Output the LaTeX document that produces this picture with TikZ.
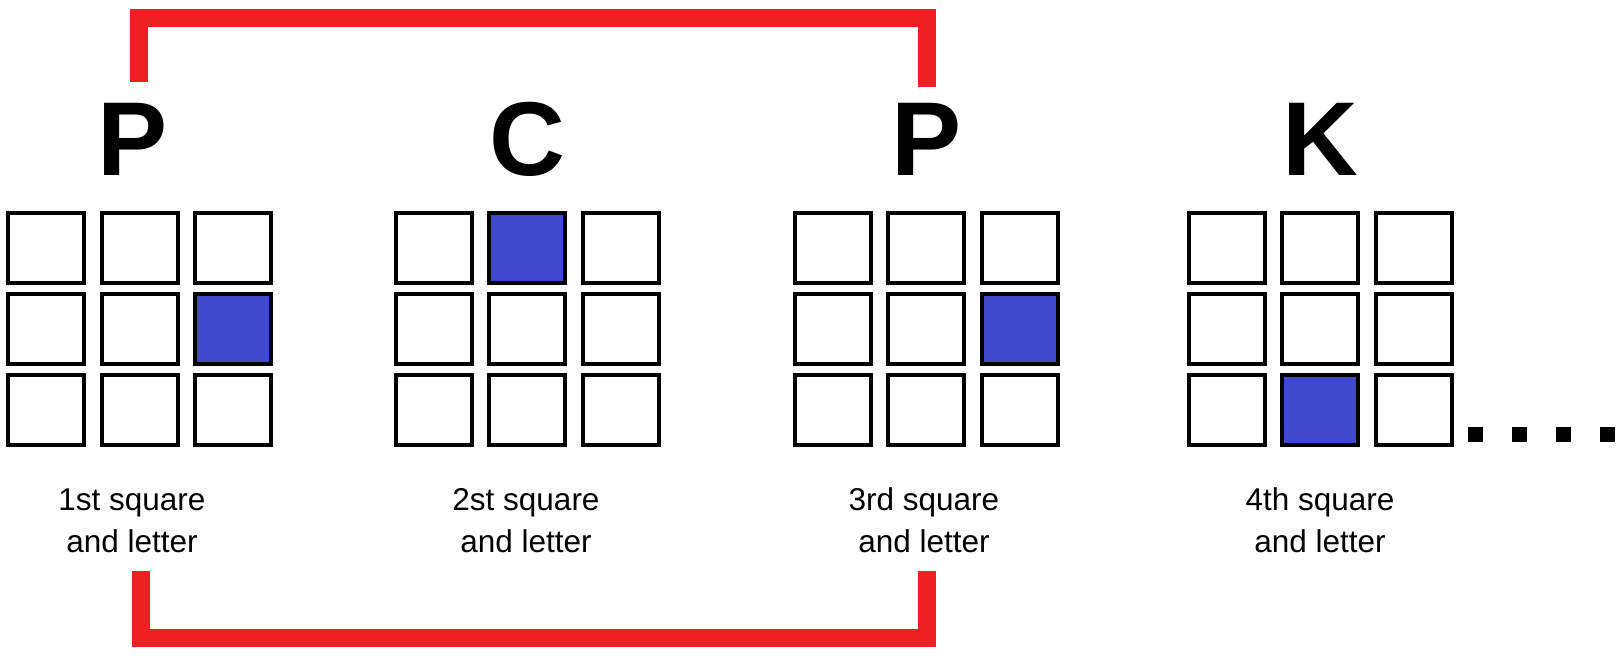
\documentclass[tikz,border=0pt]{standalone}
\usepackage{fontspec}
\setmainfont{Liberation Sans}
\usepackage{tkz-euclide}
\usetikzlibrary{positioning}
\definecolor{sqblue}{RGB}{64,73,203}
\definecolor{linkred}{RGB}{238,32,36}

\begin{document}
\begin{tikzpicture}[x=1pt,y=-1pt]
\useasboundingbox (0,0) rectangle (1619,659);
\tikzset{cell/.style={
           draw=black,
           line width=4pt,
           minimum width=76pt,
           minimum height=70pt,
           inner sep=0pt,
           },
         letter/.style={font=\fontsize{105}{105}\selectfont\bfseries,inner sep=0pt,anchor=base},
         caption/.style={font=\fontsize{31.5}{42}\selectfont,align=center,inner sep=0pt,anchor=base},
         link/.style={draw=linkred,line width=18pt},
         dot/.style={fill=black,inner sep=0pt,minimum size=15pt}
           }
%==========================================
% letters
\node[letter] (L1) at (132.5,175) {P};
\node[letter] (L2) at (527,175) {C};
\node[letter] (L3) at (926.5,175) {P};
\node[letter] (L4) at (1320,175) {K};
%==========================================
% 3x3 squares, grid k centred at (gx,329), blue cell at (bc,br)
\foreach \k/\gx/\bc/\br in {1/139.5/3/2, 2/527/2/1, 3/926/3/2, 4/1320/2/3}{
  \foreach \c in {1,2,3}{
    \foreach \r in {1,2,3}{
      \ifnum\c=\bc \ifnum\r=\br
        \node[cell,fill=sqblue] (g\k-\r-\c) at ({\gx+(\c-2)*93.5},{329+(\r-2)*81}) {};
      \else
        \node[cell] (g\k-\r-\c) at ({\gx+(\c-2)*93.5},{329+(\r-2)*81}) {};
      \fi \else
        \node[cell] (g\k-\r-\c) at ({\gx+(\c-2)*93.5},{329+(\r-2)*81}) {};
      \fi
    }
  }
}
%==========================================
% captions (base = last line)
\node[caption] (T1) at (132,552) {1st square\\and letter};
\node[caption] (T2) at (526,552) {2st square\\and letter};
\node[caption] (T3) at (924,552) {3rd square\\and letter};
\node[caption] (T4) at (1320,552) {4th square\\and letter};
%==========================================
% dots
\foreach \i/\dx in {1/1475.5,2/1519.5,3/1563.5,4/1607.5}
  \node[dot] (d\i) at (\dx,434.5) {};
%==========================================
% links between the two P
\tkzDefPoint(139,82){ta};
\tkzDefPoint(139,18){tb};
\tkzDefPoint(926.5,18){tc};
\tkzDefPoint(926.5,87){td};
\tkzDefPoint(141,571){ba};
\tkzDefPoint(141,637.5){bb};
\tkzDefPoint(927,637.5){bc};
\tkzDefPoint(927,571){bd};
\draw[link] (ta) -- (tb) -- (tc) -- (td);
\draw[link] (ba) -- (bb) -- (bc) -- (bd);
\end{tikzpicture}
\end{document}
